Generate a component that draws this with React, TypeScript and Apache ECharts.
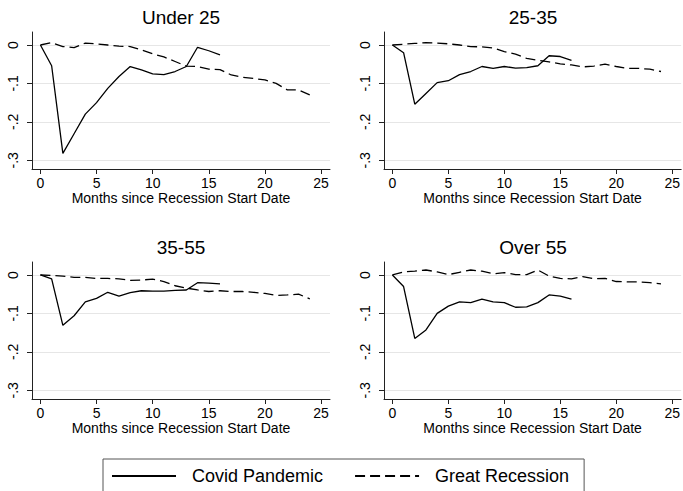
import React, { useEffect, useRef } from "react";
import * as echarts from "echarts";

const FONT = "'Liberation Sans', Arial, Helvetica, sans-serif";

const panelTitles = ["Under 25", "25-35", "35-55", "Over 55"];
const seriesNames = ["Covid Pandemic", "Great Recession"];
const xAxisName = "Months since Recession Start Date";

const covidMonths = [0, 1, 2, 3, 4, 5, 6, 7, 8, 9, 10, 11, 12, 13, 14, 15, 16];
const grMonths = [0, 1, 2, 3, 4, 5, 6, 7, 8, 9, 10, 11, 12, 13, 14, 15, 16, 17, 18, 19, 20, 21, 22, 23, 24];

const xTicks = [0, 5, 10, 15, 20, 25];
const yTicks = [-0.3, -0.2, -0.1, 0];

const under25Covid = [0, -0.054, -0.282, -0.231, -0.18, -0.15, -0.113, -0.082, -0.056, -0.065, -0.075, -0.077, -0.069, -0.056, -0.006, -0.015, -0.026];
const under25GR = [0, 0.006, -0.004, -0.007, 0.005, 0.003, 0, -0.003, -0.004, -0.013, -0.023, -0.031, -0.043, -0.055, -0.056, -0.063, -0.064, -0.078, -0.084, -0.087, -0.091, -0.1, -0.117, -0.117, -0.13];

const age2535Covid = [0, -0.02, -0.154, -0.126, -0.098, -0.093, -0.077, -0.069, -0.056, -0.061, -0.056, -0.06, -0.059, -0.054, -0.028, -0.03, -0.04];
const age2535GR = [0, 0.002, 0.004, 0.006, 0.005, 0.003, 0, -0.004, -0.005, -0.008, -0.017, -0.024, -0.035, -0.04, -0.044, -0.049, -0.052, -0.057, -0.055, -0.05, -0.056, -0.061, -0.061, -0.063, -0.069];

const age3555Covid = [0, -0.01, -0.131, -0.106, -0.07, -0.061, -0.045, -0.055, -0.046, -0.041, -0.042, -0.042, -0.04, -0.039, -0.02, -0.021, -0.023];
const age3555GR = [0, -0.001, -0.003, -0.006, -0.006, -0.009, -0.009, -0.01, -0.014, -0.013, -0.011, -0.017, -0.028, -0.034, -0.039, -0.043, -0.041, -0.043, -0.043, -0.045, -0.048, -0.053, -0.052, -0.05, -0.062];

const over55Covid = [0, -0.03, -0.165, -0.143, -0.1, -0.081, -0.07, -0.072, -0.063, -0.07, -0.072, -0.084, -0.083, -0.072, -0.052, -0.055, -0.063];
const over55GR = [0, 0.008, 0.01, 0.013, 0.008, 0.001, 0.007, 0.013, 0.01, 0.003, 0.006, 0.001, 0.001, 0.013, -0.003, -0.009, -0.01, -0.004, -0.01, -0.009, -0.017, -0.018, -0.018, -0.02, -0.023];

const covidByPanel = [under25Covid, age2535Covid, age3555Covid, over55Covid];
const grByPanel = [under25GR, age2535GR, age3555GR, over55GR];

const gridPos = [
  { left: 32, top: 32 },
  { left: 384, top: 32 },
  { left: 32, top: 262 },
  { left: 384, top: 262 },
];
const GRID_W = 298;
const GRID_H = 137;

const fmtY = (v: number) => (Math.abs(v) < 1e-9 ? "0" : v.toFixed(1).replace("0.", "."));

export default function App() {
  const ref = useRef<HTMLDivElement>(null);

  useEffect(() => {
    if (!ref.current) return;
    const chart = echarts.init(ref.current, undefined, { renderer: "svg" });

    const axisColor = "#222";

    const grid = gridPos.map((p) => ({ left: p.left, top: p.top, width: GRID_W, height: GRID_H, containLabel: false }));

    const xAxis = gridPos.map((_, i) => ({
      gridIndex: i,
      type: "value",
      min: -0.75,
      max: 25.8,
      minInterval: 5,
      maxInterval: 5,
      name: xAxisName,
      nameLocation: "middle",
      nameGap: 21,
      nameTextStyle: { fontSize: 14, color: "#000", fontFamily: FONT },
      axisLine: { show: true, onZero: false, lineStyle: { color: axisColor, width: 1 } },
      axisTick: { show: true, length: 5, customValues: xTicks, lineStyle: { color: axisColor, width: 1 } },
      axisLabel: { customValues: xTicks, margin: 7, fontSize: 14, color: "#000", fontFamily: FONT },
      splitLine: { show: false },
    }));

    const yAxis = gridPos.map((_, i) => ({
      gridIndex: i,
      type: "value",
      min: -0.3227,
      max: 0.0338,
      minInterval: 0.1,
      maxInterval: 0.1,
      axisLine: { show: true, onZero: false, lineStyle: { color: axisColor, width: 1 } },
      axisTick: { show: true, length: 5, customValues: yTicks, lineStyle: { color: axisColor, width: 1 } },
      axisLabel: {
        customValues: yTicks,
        rotate: 90,
        margin: 12,
        fontSize: 14,
        color: "#000",
        fontFamily: FONT,
        formatter: fmtY,
      },
      splitLine: { show: true, lineStyle: { color: "#e6e6e6", width: 1 } },
    }));

    const graphic = panelTitles.map((t, i) => ({
      type: "text",
      x: gridPos[i].left + GRID_W / 2,
      y: gridPos[i].top - 24,
      silent: true,
      style: {
        text: t,
        fill: "#000",
        font: `normal 400 19px ${FONT}`,
        fontSize: 19,
        fontWeight: "normal",
        fontFamily: FONT,
        align: "center",
        verticalAlign: "top",
        textAlign: "center",
        textVerticalAlign: "top",
      },
    }));

    const series: any[] = [];
    gridPos.forEach((_, i) => {
      series.push({
        name: seriesNames[0],
        type: "line",
        xAxisIndex: i,
        yAxisIndex: i,
        symbol: "none",
        data: covidMonths.map((m, k) => [m, covidByPanel[i][k]]),
        lineStyle: { color: "#000", width: 1.3, type: "solid" },
        itemStyle: { color: "#000" },
      });
      series.push({
        name: seriesNames[1],
        type: "line",
        xAxisIndex: i,
        yAxisIndex: i,
        symbol: "none",
        data: grMonths.map((m, k) => [m, grByPanel[i][k]]),
        lineStyle: { color: "#000", width: 1.3, type: [10, 5] },
        itemStyle: { color: "#000" },
      });
    });

    chart.setOption({
      animation: false,
      backgroundColor: "#fff",
      textStyle: { fontFamily: FONT },
      graphic,
      grid,
      xAxis,
      yAxis,
      legend: {
        data: seriesNames,
        left: 103,
        top: 459,
        orient: "horizontal",
        itemWidth: 64,
        itemHeight: 14,
        itemGap: 31,
        padding: [8, 15, 30, 8],
        borderColor: "#555",
        borderWidth: 1,
        selectedMode: false,
        itemStyle: { opacity: 0 },
        textStyle: { fontSize: 18, color: "#000", fontFamily: FONT, padding: [0, 0, 0, 11] },
      },
      series,
    });

    return () => chart.dispose();
  }, []);

  return <div ref={ref} style={{ position: "fixed", left: 0, top: 0, width: 683, height: 491 }} />;
}
